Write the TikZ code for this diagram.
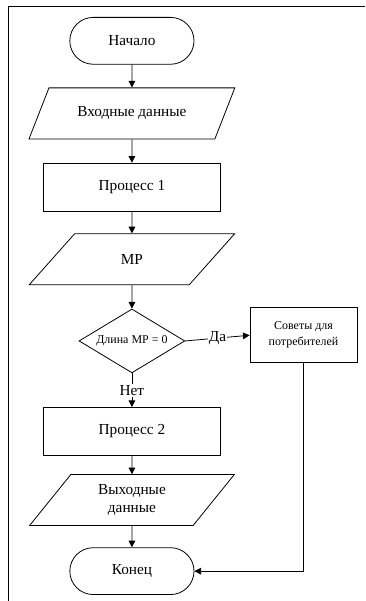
\documentclass[tikz,border=0pt]{standalone}
\usepackage{fontspec}
\setmainfont{Liberation Serif}
\usetikzlibrary{shapes.geometric, shapes.misc, arrows.meta}

\begin{document}
\begin{tikzpicture}[
        line width=0.6pt,
        >={Triangle[length=5pt,width=5pt]},
        term/.style={draw, rounded rectangle, minimum width=3.52cm, minimum height=1.24cm, font=\fontsize{11.5}{13.5}\selectfont},
        io/.style={draw, trapezium, trapezium left angle=57, trapezium right angle=123, trapezium stretches=true, minimum width=5.45cm, minimum height=1.35cm, align=center, font=\fontsize{11.5}{13.5}\selectfont},
        proc/.style={draw, rectangle, minimum width=4.68cm, minimum height=1.27cm, font=\fontsize{11.5}{13.5}\selectfont},
        cond/.style={draw, diamond, aspect=1.66, inner sep=0pt, minimum width=2.8cm, minimum height=1.69cm, font=\fontsize{9}{11}\selectfont},
        note/.style={draw, rectangle, minimum width=2.83cm, minimum height=1.46cm, align=center, font=\fontsize{9}{12}\selectfont},
        lbl/.style={fill=white, inner sep=1pt, font=\fontsize{11.5}{13.5}\selectfont}
    ]
        \useasboundingbox (0,0) rectangle (9.657,15.90);

        % Frame
        \draw (0.21,0) -- (0.21,15.74) -- (9.657,15.74);

        % Blocks
        \node[term] (start) at (3.49,14.82) {Начало};
        \node[io] (input) at (3.49,12.90) {Входные данные};
        \node[proc] (proc1) at (3.49,10.95) {Процесс 1};
        \node[io] (mp) at (3.49,9.04) {МР};
        \node[cond] (check) at (3.49,6.88) {Длина МР = 0};
        \node[note] (advice) at (8.03,7.03) {Советы для\\потребителей};
        \node[proc] (proc2) at (3.49,4.485) {Процесс 2};
        \node[io] (output) at (3.49,2.67) {Выходные\\данные};
        \node[term] (finish) at (3.49,0.79) {Конец};

        % Connectors
        \draw[->] (start) -- (input);
        \draw[->] (input) -- (proc1);
        \draw[->] (proc1) -- (mp);
        \draw[->] (mp) -- (check);
        \draw[->] (check.east) -- node[lbl] {Да} (advice.west);
        \draw[->] (check.south) -- node[lbl] {Нет} (proc2.north);
        \draw[->] (proc2) -- (output);
        \draw[->] (output) -- (finish);
        \draw[->] (advice.south) |- (finish.east);
    \end{tikzpicture}
\end{document}
